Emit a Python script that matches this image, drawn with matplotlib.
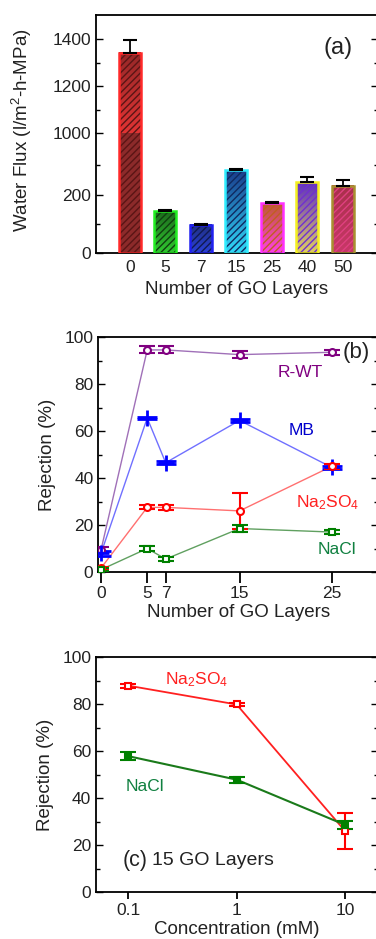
import matplotlib
matplotlib.use("Agg")
import matplotlib.pyplot as plt
import numpy as np
from matplotlib.colors import LinearSegmentedColormap
from matplotlib.ticker import FixedLocator, MultipleLocator

plt.rcParams["font.family"] = ["Liberation Sans", "DejaVu Sans"]
plt.rcParams["mathtext.fontset"] = "custom"
plt.rcParams["mathtext.rm"] = "Liberation Sans"
plt.rcParams["mathtext.it"] = "Liberation Sans:italic"
plt.rcParams["hatch.linewidth"] = 1.0

# ---- panel (a): water flux vs number of GO layers
layers_a = ["0", "5", "7", "15", "25", "40", "50"]
flux = [1342, 143, 96, 283, 171, 243, 230]
flux_err = [56, 4, 4, 5, 4, 17, 21]
# (bottom colour, top colour, edge colour, hatch colour)
bar_styles = [
    ("#e03434", "#962828", "#ff2a2a", "#5a1515"),
    ("#30c830", "#1d6a1d", "#22ee22", "#104010"),
    ("#2a40d8", "#203080", "#2020f0", "#101a50"),
    ("#30d8f8", "#1a3c8c", "#30eeff", "#102a60"),
    ("#ff40e8", "#c05a30", "#ff30ff", "#c06020"),
    ("#e0d060", "#6030c0", "#f4f020", "#7030d0"),
    ("#c83868", "#a8304a", "#a89030", "#e04080"),
]

# ---- panel (b): rejection vs number of GO layers
layers_b = [0, 5, 7, 15, 25]
rwt = [9.5, 94.5, 94.5, 92.5, 93.5]
rwt_err = [1.0, 1.5, 1.5, 1.5, 1.0]
mb = [8.0, 65.5, 46.5, 64.5, 44.5]
mb_err = [1.0, 0.6, 0.6, 0.6, 0.6]
na2so4_b = [1.7, 27.5, 27.5, 26.0, 45.0]
na2so4_b_err = [0.5, 0.8, 1.2, 7.8, 1.0]
nacl_b = [1.0, 10.0, 5.5, 18.5, 17.0]
nacl_b_err = [0.5, 1.0, 0.8, 1.5, 0.8]

# ---- panel (c): rejection vs concentration, 15 GO layers
conc = [0.1, 1, 10]
na2so4_c = [87.8, 79.8, 26.0]
na2so4_c_err = [0.8, 0.8, 7.7]
nacl_c = [57.8, 47.8, 28.6]
nacl_c_err = [1.8, 1.3, 1.8]

TICK_FS = 12.5
LABEL_FS = 13.5
TXT = "#222222"

fig = plt.figure(figsize=(3.76, 9.39), dpi=100)
W, H = 376.0, 939.0


def px_axes(left, top, right, bottom):
    return fig.add_axes([left / W, 1 - bottom / H, (right - left) / W, (bottom - top) / H])


def style_ticks(ax):
    ax.tick_params(axis="both", which="major", direction="in", length=5, width=1,
                   labelsize=TICK_FS, labelcolor=TXT, right=True)
    ax.tick_params(axis="y", which="minor", direction="in", length=3, width=1, right=True)
    for s in ax.spines.values():
        s.set_linewidth(1.3)


# panel (a) -- broken y axis made of two stacked axes
ax_lo = px_axes(96, 133.3, 378, 253)
ax_hi = px_axes(96, 15.3, 378, 133.3)
lims = {ax_lo: (0, 410), ax_hi: (1000, 1502)}
x = np.arange(len(layers_a))
for ax in (ax_lo, ax_hi):
    y_min, y_max = lims[ax]
    for i, (xi, h) in enumerate(zip(x, flux)):
        if h <= y_min:
            continue
        bot, top, edge, hatch = bar_styles[i]
        if i == 0 and ax is ax_lo:
            bot, top = "#8c2a2a", "#8c2a2a"
        base = ax.bar(xi, h, width=0.62, color="none", edgecolor="none")[0]
        cmap = LinearSegmentedColormap.from_list("g%d" % i, [bot, top])
        grad = np.linspace(0, 1, 64).reshape(-1, 1)
        ax.imshow(grad, cmap=cmap, origin="lower", aspect="auto",
                  extent=(base.get_x(), base.get_x() + base.get_width(),
                          y_min, min(h, y_max)), zorder=1)
        ax.bar(xi, h, width=0.62, color="none", edgecolor=hatch, linewidth=0,
               hatch="/////", zorder=2)
        ax.bar(xi, h, width=0.62, color="none", edgecolor=edge, linewidth=1.8, zorder=3)
    ax.errorbar(x, flux, yerr=[np.zeros(len(flux)), flux_err], fmt="none",
                ecolor="black", elinewidth=1.3, capsize=5, capthick=1.5, zorder=4)
    ax.set_xlim(-0.958, 6.99)
    ax.set_ylim(y_min, y_max)
    style_ticks(ax)

ax_lo.yaxis.set_major_locator(FixedLocator([0, 200]))
ax_lo.yaxis.set_minor_locator(FixedLocator([100, 300]))
ax_lo.spines["top"].set_visible(False)
ax_lo.set_xticks(x)
ax_lo.set_xticklabels(layers_a)
ax_lo.tick_params(axis="x", length=0, pad=5)
ax_lo.set_xlabel("Number of GO Layers", fontsize=LABEL_FS, color=TXT, labelpad=4)

ax_hi.yaxis.set_major_locator(FixedLocator([1000, 1200, 1400]))
ax_hi.yaxis.set_minor_locator(FixedLocator([1100, 1300]))
ax_hi.spines["bottom"].set_visible(False)
ax_hi.set_xticks([])
ax_hi.text(0.858, 0.72, "(a)", transform=ax_hi.transAxes, fontsize=17,
           ha="center", va="center", color=TXT)
fig.text(22 / W, 1 - 130 / H, "Water Flux (l/m$^2$-h-MPa)", rotation=90,
         fontsize=LABEL_FS, color=TXT, ha="center", va="center")

# panel (b)
ax_b = px_axes(98.3, 337, 378, 572)
series_b = [
    (rwt, rwt_err, "#800080", "#a070b8", "o", "w"),
    (mb, mb_err, "#0000ff", "#7070ff", "+", "#0000ff"),
    (na2so4_b, na2so4_b_err, "#ff0000", "#ff7070", "o", "w"),
    (nacl_b, nacl_b_err, "#008000", "#60a060", "s", "w"),
]
for vals, errs, mc, lc, mk, mfc in series_b:
    ax_b.plot(layers_b, vals, color=lc, lw=1.0, zorder=2)
    ax_b.errorbar(layers_b, vals, yerr=errs, fmt=mk, color=mc, mfc=mfc, mec=mc,
                  ms=5 if mk != "+" else 12, mew=1.5 if mk != "+" else 2.0,
                  elinewidth=1.5, capsize=6 if mk != "+" else 7, capthick=1.6, zorder=3)
ax_b.set_xlim(-0.3, 30)
ax_b.set_ylim(0, 100)
ax_b.set_xticks(layers_b)
ax_b.yaxis.set_major_locator(MultipleLocator(20))
ax_b.yaxis.set_minor_locator(MultipleLocator(10))
style_ticks(ax_b)
ax_b.tick_params(axis="x", which="major", direction="out", length=8, width=1.3, top=False, pad=2)
ax_b.set_xlabel("Number of GO Layers", fontsize=LABEL_FS, color=TXT, labelpad=2)
ax_b.set_ylabel("Rejection (%)", fontsize=LABEL_FS, color=TXT, labelpad=6)
ax_b.text(0.721, 0.851, "R-WT", transform=ax_b.transAxes, color="#800080",
          fontsize=12.5, ha="center", va="center")
ax_b.text(0.728, 0.604, "MB", transform=ax_b.transAxes, color="#0000cc",
          fontsize=12.5, ha="center", va="center")
ax_b.text(0.821, 0.294, "Na$_2$SO$_4$", transform=ax_b.transAxes, color="#ff2020",
          fontsize=12.5, ha="center", va="center")
ax_b.text(0.853, 0.094, "NaCl", transform=ax_b.transAxes, color="#108040",
          fontsize=12.5, ha="center", va="center")
ax_b.text(0.924, 0.932, "(b)", transform=ax_b.transAxes, color=TXT,
          fontsize=16, ha="center", va="center")

# panel (c)
ax_c = px_axes(96, 657, 378, 892)
ax_c.set_xscale("log")
ax_c.plot(conc, na2so4_c, color="#ff2020", lw=1.3, zorder=2)
ax_c.errorbar(conc, na2so4_c, yerr=na2so4_c_err, fmt="s", color="#ff0000", mfc="w",
              mec="#ff0000", ms=5, mew=1.5, elinewidth=1.5, capsize=6, capthick=1.6, zorder=3)
ax_c.plot(conc, nacl_c, color="#1a7a1a", lw=1.5, zorder=2)
ax_c.errorbar(conc, nacl_c, yerr=nacl_c_err, fmt="s", color="#008000", mfc="#008000",
              mec="#008000", ms=5, mew=1.5, elinewidth=1.5, capsize=6, capthick=1.8, zorder=3)
ax_c.set_xlim(0.0503, 20.2)
ax_c.set_ylim(0, 100)
ax_c.set_xticks(conc)
ax_c.set_xticklabels(["0.1", "1", "10"])
ax_c.xaxis.set_minor_locator(plt.NullLocator())
ax_c.yaxis.set_major_locator(MultipleLocator(20))
ax_c.yaxis.set_minor_locator(MultipleLocator(10))
style_ticks(ax_c)
ax_c.tick_params(axis="x", which="major", direction="out", length=5, width=1.3, top=False, pad=3)
ax_c.set_xlabel("Concentration (mM)", fontsize=LABEL_FS, color=TXT, labelpad=2)
ax_c.set_ylabel("Rejection (%)", fontsize=LABEL_FS, color=TXT, labelpad=6)
ax_c.text(0.358, 0.902, "Na$_2$SO$_4$", transform=ax_c.transAxes, color="#ff2020",
          fontsize=12.5, ha="center", va="center")
ax_c.text(0.174, 0.447, "NaCl", transform=ax_c.transAxes, color="#108040",
          fontsize=12.5, ha="center", va="center")
ax_c.text(0.096, 0.136, "(c)", transform=ax_c.transAxes, color=TXT,
          fontsize=15.5, ha="left", va="center")
ax_c.text(0.2, 0.136, "15 GO Layers", transform=ax_c.transAxes, color=TXT,
          fontsize=14, ha="left", va="center")

fig.savefig("out.png", dpi=100)
